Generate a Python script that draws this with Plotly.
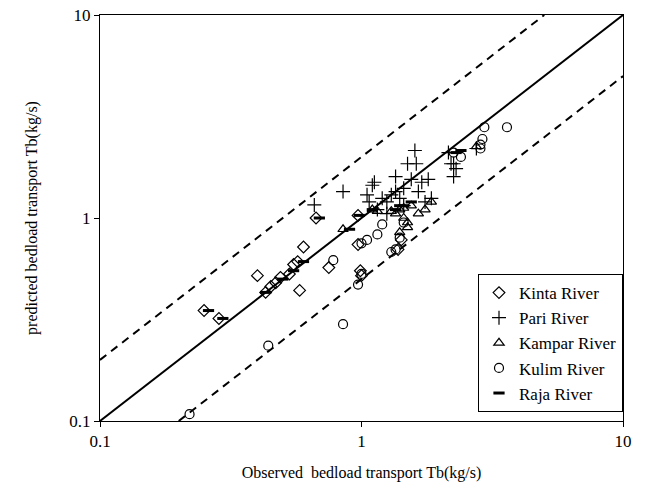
import plotly.graph_objects as go

# Kinta River (diamonds)
kinta_x = [0.25, 0.285, 0.40, 0.43, 0.45, 0.47, 0.49, 0.53, 0.55, 0.57, 0.58, 0.60, 0.67, 0.75, 0.97, 0.97, 0.99, 1.0, 1.38, 1.42]
kinta_y = [0.35, 0.32, 0.52, 0.43, 0.46, 0.48, 0.51, 0.53, 0.59, 0.61, 0.44, 0.72, 1.0, 0.57, 1.03, 0.74, 0.55, 0.52, 0.70, 0.78]

# Pari River (+)
pari_x = [0.66, 0.85, 1.05, 1.07, 1.1, 1.12, 1.15, 1.2, 1.25, 1.3, 1.35, 1.35, 1.4, 1.45, 1.5, 1.55, 1.6, 1.62, 1.7, 1.8, 1.75, 1.85, 2.15, 2.2, 2.25, 2.3, 2.25, 2.75, 1.25, 1.45, 1.65]
pari_y = [1.16, 1.35, 1.3, 1.2, 1.45, 1.5, 1.1, 1.25, 1.2, 1.3, 1.6, 1.35, 1.25, 1.4, 1.85, 1.55, 2.15, 1.85, 1.5, 1.55, 1.2, 1.25, 2.1, 1.85, 1.6, 1.75, 1.85, 2.2, 1.05, 1.15, 1.35]

# Kampar River (triangles)
kampar_x = [0.85, 1.1, 1.15, 1.3, 1.35, 1.4, 1.45, 1.5, 1.55, 1.65, 1.75, 1.85, 1.5, 1.4, 1.45, 2.75]
kampar_y = [0.88, 1.1, 1.08, 1.08, 1.05, 1.1, 1.0, 0.95, 1.15, 1.05, 1.1, 1.2, 0.9, 0.85, 1.12, 2.25]

# Kulim River (circles)
kulim_x = [0.22, 0.44, 0.78, 0.85, 0.97, 1.0, 1.05, 1.0, 1.15, 1.2, 1.3, 1.35, 1.4, 1.45, 2.25, 2.4, 2.85, 2.9, 2.95, 3.6, 2.85]
kulim_y = [0.108, 0.235, 0.62, 0.30, 0.47, 0.53, 0.78, 0.75, 0.83, 0.93, 0.68, 0.70, 0.80, 0.95, 2.1, 2.0, 2.3, 2.45, 2.8, 2.8, 2.2]

# Raja River (dash)
raja_x = [0.26, 0.295, 0.43, 0.50, 0.55, 0.60, 0.69, 0.98, 0.9, 1.1, 1.35, 1.4, 1.45, 1.55, 2.3, 2.4]
raja_y = [0.35, 0.32, 0.43, 0.50, 0.55, 0.61, 1.0, 1.03, 0.88, 1.1, 1.1, 1.15, 1.15, 1.2, 2.1, 2.15]

# Reference lines
line_x = [0.1, 10]
upper_x = [0.1, 5]
lower_x = [0.2, 10]

FONT = "Liberation Serif, Times New Roman, serif"

fig = go.Figure()
fig.add_trace(go.Scatter(x=line_x, y=line_x, mode="lines", line=dict(color="black", width=2), showlegend=False, hoverinfo="skip"))
fig.add_trace(go.Scatter(x=upper_x, y=[2 * v for v in upper_x], mode="lines", line=dict(color="black", width=2, dash="8px,6px"), showlegend=False, hoverinfo="skip"))
fig.add_trace(go.Scatter(x=lower_x, y=[v / 2 for v in lower_x], mode="lines", line=dict(color="black", width=2, dash="8px,6px"), showlegend=False, hoverinfo="skip"))

fig.add_trace(go.Scatter(x=kinta_x, y=kinta_y, mode="markers", name="Kinta River", legendgroup="a",
                         marker=dict(symbol="diamond-open", size=9, color="black", line=dict(width=1.2))))
fig.add_trace(go.Scatter(x=pari_x, y=pari_y, mode="markers", name="Pari River", legendgroup="b",
                         marker=dict(symbol="cross-thin-open", size=10, color="black", line=dict(width=1.2))))
fig.add_trace(go.Scatter(x=kampar_x, y=kampar_y, mode="markers", name="Kampar River", legendgroup="c",
                         marker=dict(symbol="triangle-up-open", size=9, color="black", line=dict(width=1.2))))
fig.add_trace(go.Scatter(x=kulim_x, y=kulim_y, mode="markers", name="Kulim River", legendgroup="d",
                         marker=dict(symbol="circle-open", size=9, color="black", line=dict(width=1.2))))
fig.add_trace(go.Scatter(x=raja_x, y=raja_y, mode="markers", name="Raja River", legendgroup="e",
                         marker=dict(symbol="line-ew", size=8, color="black", line=dict(width=3, color="black"))))

axis_common = dict(type="log", range=[-1, 1], showgrid=False, zeroline=False,
                   showline=True, linecolor="black", linewidth=1, mirror=True,
                   ticks="outside", ticklen=5, tickcolor="black",
                   tickvals=[0.1, 1, 10], ticktext=["0.1", "1", "10"],
                   tickfont=dict(family=FONT, size=17, color="black"),
                   automargin=False)

fig.update_xaxes(**axis_common, title=dict(text="Observed  bedload transport Tb(kg/s)", font=dict(family=FONT, size=16, color="black"), standoff=16))
fig.update_yaxes(**axis_common, title=dict(text="predicted bedload transport Tb(kg/s)", font=dict(family=FONT, size=16, color="black"), standoff=27))

fig.update_layout(
    width=659, height=486,
    margin=dict(l=100, r=36, t=15, b=65),
    plot_bgcolor="white", paper_bgcolor="white",
    font=dict(family=FONT, size=16, color="black"),
    legend=dict(x=1, xanchor="right", y=0.022, yanchor="bottom",
                bgcolor="white", bordercolor="black", borderwidth=1,
                font=dict(family=FONT, size=17, color="black"),
                itemwidth=30, tracegroupgap=0),
)

fig.write_html("out.html")
